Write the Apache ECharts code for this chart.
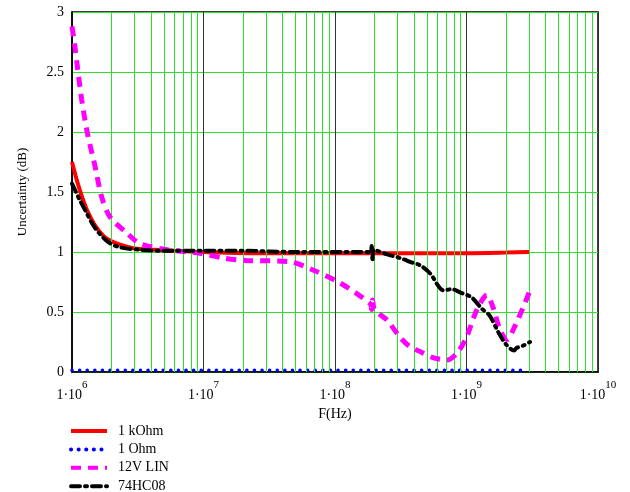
<!DOCTYPE html>
<html><head><meta charset="utf-8">
<script src="https://cdn.jsdelivr.net/npm/echarts@6/dist/echarts.min.js"></script>
<style>html,body{margin:0;padding:0;background:#fff}#c{width:630px;height:492px}</style>
</head><body><div id="c"></div>
<script>
// ---- data ----
const seriesNames = ['1 kOhm', '1 Ohm', '12V LIN', '74HC08'];

const kohmF = [1e6, 1.1e6, 1.2e6, 1.3e6, 1.5e6, 1.75e6, 2e6, 2.5e6, 3e6, 4e6, 6e6, 1e7, 3e7, 1e8, 3e8, 1e9, 2e9, 3e9];
const kohmV = [1.75, 1.58, 1.45, 1.35, 1.22, 1.13, 1.09, 1.05, 1.03, 1.02, 1.01, 1.0, 0.99, 0.99, 0.99, 0.99, 0.995, 1.0];

const ohmF = [1e6, 1e7, 1e8, 1e9, 2.8e9];
const ohmV = [0.015, 0.015, 0.015, 0.015, 0.015];

const linF = [1.0e6, 1.05e6, 1.1e6, 1.185e6, 1.31e6, 1.5e6, 1.68e6, 1.95e6, 2.6e6, 3.29e6, 5.27e6, 9.4e6, 1.41e7, 2.1e7, 4.5e7, 6.8e7, 1.1e8, 1.85e8, 1.9e8, 1.93e8, 2.0e8, 2.5e8, 3.12e8, 3.72e8, 4.43e8, 5.56e8, 7.1e8, 8.5e8, 1.0e9, 1.2e9, 1.43e9, 1.59e9, 1.8e9, 2.04e9, 2.26e9, 2.7e9, 3.04e9];
const linV = [2.88, 2.72, 2.54, 2.27, 1.99, 1.71, 1.46, 1.29, 1.16, 1.07, 1.02, 0.99, 0.95, 0.93, 0.92, 0.85, 0.74, 0.57, 0.52, 0.60, 0.52, 0.43, 0.29, 0.21, 0.17, 0.12, 0.10, 0.16, 0.29, 0.52, 0.64, 0.54, 0.35, 0.27, 0.35, 0.54, 0.68];

const hcF = [1.0e6, 1.15e6, 1.3e6, 1.42e6, 1.6e6, 1.9e6, 2.3e6, 3.2e6, 5e6, 1e7, 2e7, 5e7, 1.5e8, 1.85e8, 1.9e8, 1.93e8, 1.96e8, 2.5e8, 3.12e8, 3.9e8, 4.43e8, 5.3e8, 6.7e8, 7.7e8, 9.1e8, 1.1e9, 1.3e9, 1.5e9, 1.75e9, 2.0e9, 2.3e9, 2.4e9, 2.7e9, 3.04e9];
const hcV = [1.57, 1.43, 1.32, 1.24, 1.16, 1.08, 1.04, 1.02, 1.01, 1.01, 1.01, 1.0, 1.0, 1.0, 1.05, 0.92, 1.02, 0.98, 0.95, 0.91, 0.89, 0.82, 0.68, 0.69, 0.66, 0.62, 0.53, 0.47, 0.33, 0.23, 0.18, 0.2, 0.22, 0.25];

const minorLines = [2e6,3e6,4e6,5e6,6e6,7e6,8e6,9e6,2e7,3e7,4e7,5e7,6e7,7e7,8e7,9e7,2e8,3e8,4e8,5e8,6e8,7e8,8e8,9e8,2e9,3e9,4e9,5e9,6e9,7e9,8e9,9e9];
const yTicks = [0, 0.5, 1, 1.5, 2, 2.5, 3];

// ---- chart ----
const zip = (f, v) => f.map((x, i) => [x, v[i]]);
const FONT = 'Liberation Serif';
const chart = echarts.init(document.getElementById('c'));
chart.setOption({
  animation: false,
  backgroundColor: '#fff',
  textStyle: { fontFamily: FONT, color: '#000' },
  grid: { left: 72, right: 32, top: 12, bottom: 120, show: true, borderColor: '#000', borderWidth: 1.5, backgroundColor: 'transparent' },
  xAxis: {
    type: 'log', logBase: 10, min: 1e6, max: 1e10,
    name: 'F(Hz)', nameLocation: 'middle', nameGap: 30,
    nameTextStyle: { fontFamily: FONT, fontSize: 14, color: '#000' },
    axisLine: { show: true, lineStyle: { color: '#000', width: 1.5 } },
    axisTick: { show: false },
    splitLine: { show: true, lineStyle: { color: '#333', width: 1 } },
    axisLabel: {
      showMinLabel: true, showMaxLabel: true, margin: 8,
      formatter: v => '{a|1·10}{e|' + Math.round(Math.log10(v)) + '}',
      rich: {
        a: { fontFamily: FONT, fontSize: 14, color: '#000', lineHeight: 22, verticalAlign: 'bottom' },
        e: { fontFamily: FONT, fontSize: 11, color: '#000', lineHeight: 22, verticalAlign: 'top' }
      }
    }
  },
  yAxis: {
    type: 'value', min: yTicks[0], max: yTicks[yTicks.length - 1], interval: 0.5,
    name: 'Uncertainty (dB)', nameLocation: 'middle', nameGap: 43, nameRotate: 90,
    nameTextStyle: { fontFamily: FONT, fontSize: 13, color: '#000' },
    axisLine: { show: true, lineStyle: { color: '#000', width: 1.5 } },
    axisTick: { show: false },
    splitLine: { show: true, lineStyle: { color: '#2ee02e', width: 1 } },
    axisLabel: { fontFamily: FONT, fontSize: 14, color: '#000', margin: 8 }
  },
  legend: {
    orient: 'vertical', left: 64, top: 419, height: 100, itemWidth: 36, itemHeight: 12, itemGap: 4.4,
    itemStyle: { opacity: 0 },
    lineStyle: { width: 4 },
    textStyle: { fontFamily: FONT, fontSize: 14, color: '#000', lineHeight: 12, padding: [0, 0, 0, 6] },
    data: seriesNames
  },
  series: [
    {
      type: 'line', name: '_grid', data: [], silent: true, z: 1,
      markLine: {
        silent: true, symbol: 'none', label: { show: false }, animation: false,
        lineStyle: { color: '#2ee02e', width: 1, type: 'solid' },
        data: minorLines.map(x => ({ xAxis: x }))
      }
    },
    { type: 'line', name: seriesNames[0], data: zip(kohmF, kohmV), smooth: 0.3, showSymbol: false, symbol: 'none', z: 3,
      itemStyle: { color: '#ff0000' }, lineStyle: { color: '#ff0000', width: 4 } },
    { type: 'line', name: seriesNames[1], data: zip(ohmF, ohmV), showSymbol: false, symbol: 'none', z: 4,
      itemStyle: { color: '#0000ff' }, lineStyle: { color: '#0000ff', width: 3.5, type: [0.1, 7.5], cap: 'round' } },
    { type: 'line', name: seriesNames[2], data: zip(linF, linV), smooth: 0.3, showSymbol: false, symbol: 'none', z: 5,
      itemStyle: { color: '#ff00ff' }, lineStyle: { color: '#ff00ff', width: 5, type: [10, 7] } },
    { type: 'line', name: seriesNames[3], data: zip(hcF, hcV), smooth: 0.3, showSymbol: false, symbol: 'none', z: 6,
      itemStyle: { color: '#000' }, lineStyle: { color: '#000', width: 4, type: [9, 5, 2, 5], cap: 'round' } }
  ]
});
</script></body></html>
